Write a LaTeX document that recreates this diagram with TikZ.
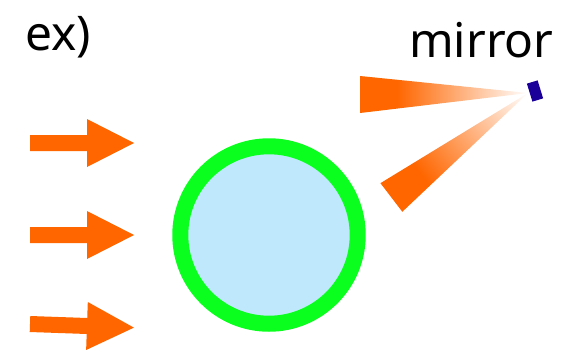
\documentclass[tikz,border=0pt]{standalone}
\usepackage{fontspec}
\setmainfont{Noto Sans}
\usetikzlibrary{calc}
\definecolor{BO}{RGB}{255,102,0}
\definecolor{RG}{RGB}{10,255,30}
\definecolor{LB}{RGB}{192,232,252}
\definecolor{MB}{RGB}{26,0,153}
\pgfdeclarehorizontalshading{beamfade}{100bp}{%
  color(0bp)=(BO); color(36bp)=(BO); color(75bp)=(white); color(100bp)=(white)}

\begin{document}
\begin{tikzpicture}[
  x=0.025cm, y=-0.025cm,
  lbl/.style={font=\fontsize{34}{40}\selectfont, inner sep=0pt, anchor=base west},
  drop/.style={circle, draw=RG, fill=LB, line width=11.4pt,
               minimum size=4.435cm, inner sep=0pt},
  mirrorbox/.style={rectangle, fill=MB, minimum width=0.28cm,
                    minimum height=0.47cm, inner sep=0pt},
  beam/.style={shading=beamfade}
]
\useasboundingbox (0,0) rectangle (569,350);

% Labels
\node[lbl] (ex) at (25,50) {ex)};
\node[lbl] (mirrortxt) at (409,57) {mirror};

% Incoming light
\foreach \y/\a in {143/0, 235/0, 324/-2}{
  \fill[BO, shift={(30,\y)}, rotate=\a]
    (0,-8) -- (57,-8) -- (57,-24) -- (104,0) -- (57,24) -- (57,8) -- (0,8) -- cycle;
}

% Droplet
\node[drop] (ball) at (269,235) {};

% Mirror and beams
\coordinate (apex) at (528,93);
\shade[beam] (360,76) -- (apex) -- (360,113) -- cycle;
\begin{scope}[transform canvas={shift={(apex)}, rotate=37.4}]
  \shade[beam] (-172,-18) -- (0,0) -- (-172,18) -- cycle;
\end{scope}
\node[mirrorbox, rotate=17] (mirror) at (535,91) {};
\end{tikzpicture}
\end{document}
